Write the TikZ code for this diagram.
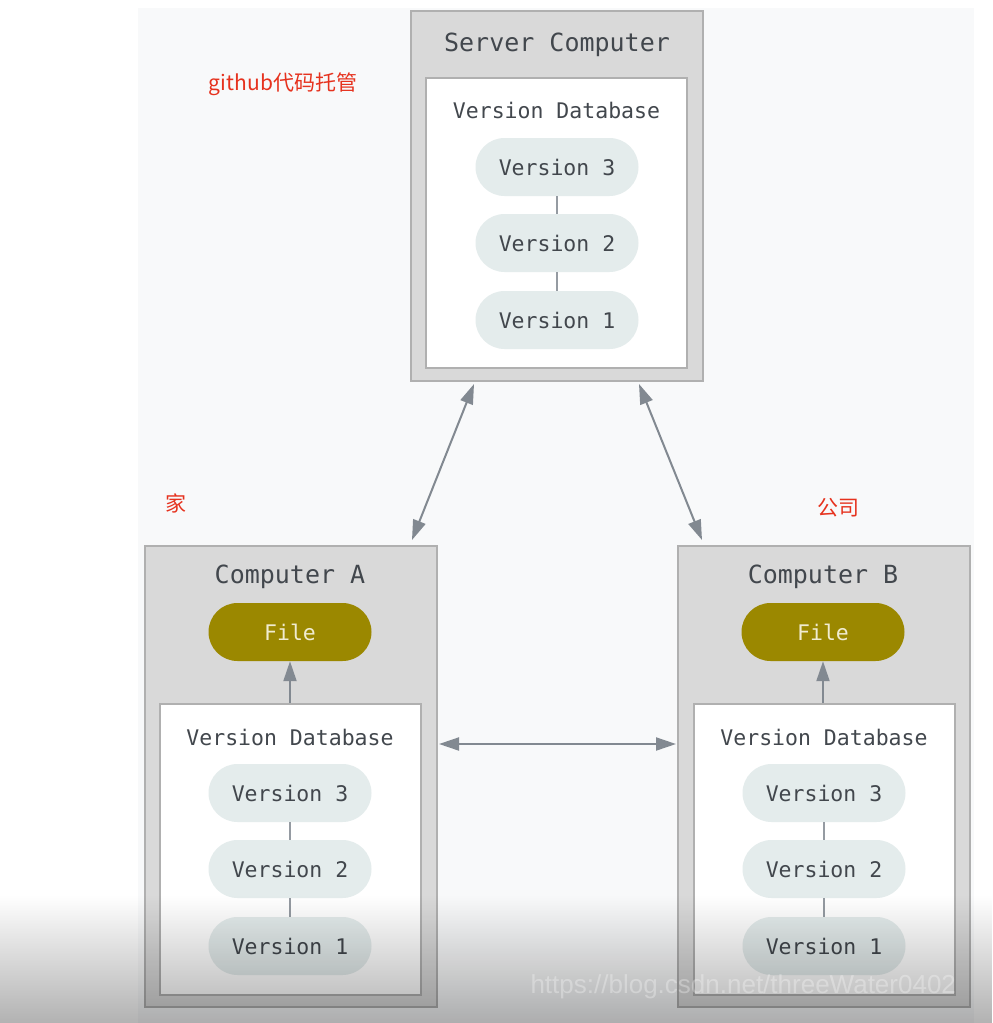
\documentclass[tikz,border=0pt]{standalone}
\usepackage{fontspec}
\setmonofont{DejaVu Sans Mono}
\setmainfont{Liberation Sans}
\newfontfamily\cjk{Noto Sans CJK SC}
\usepackage{xcolor}
\definecolor{PanelBg}   {RGB}{248, 249, 250}
\definecolor{BoxGray}   {RGB}{217, 217, 217}
\definecolor{BoxLine}   {RGB}{176, 176, 176}
\definecolor{PillFill}  {RGB}{228, 236, 236}
\definecolor{FileOlive} {RGB}{155, 136,   0}
\definecolor{FileText}  {RGB}{240, 236, 208}
\definecolor{TextGray}  {RGB}{ 66,  71,  77}
\definecolor{ArrowGray} {RGB}{130, 137, 145}
\definecolor{NoteRed}   {RGB}{230,  50,  30}
\usetikzlibrary{
  arrows.meta,
  positioning,
  calc,
  fadings
}

\begin{document}
\begin{tikzpicture}[
  x=1pt, y=-1pt,
  machine/.style={
    draw=BoxLine, fill=BoxGray, line width=2pt,
    inner sep=0pt, minimum width=292pt
  },
  database/.style={
    draw=BoxLine, fill=white, line width=2pt,
    inner sep=0pt, minimum width=261pt,
    minimum height=291pt
  },
  title/.style={
    text=TextGray, font=\ttfamily\fontsize{25}{30}\selectfont},
  dbtitle/.style={
    text=TextGray, font=\ttfamily\fontsize{21.5}{26}\selectfont},
  version/.style={
    fill=PillFill, rounded corners=29pt,
    minimum width=163pt, minimum height=58pt,
    text=TextGray,
    font=\ttfamily\fontsize{21.5}{26}\selectfont
  },
  file/.style={version,
    fill=FileOlive, text=FileText},
  link/.style={
    draw=ArrowGray!85, line width=1.6pt},
  arrow/.style={
    {Triangle[length=20pt, width=13pt]}-{Triangle[length=20pt, width=13pt]},
    draw=ArrowGray, fill=ArrowGray, line width=2pt},
  up/.style={
    -{Triangle[length=20pt, width=13pt]},
    draw=ArrowGray, fill=ArrowGray, line width=2pt},
  note/.style={
    text=NoteRed, font=\cjk\fontsize{21}{25}\selectfont}
]
\useasboundingbox (0,0) rectangle (993,1023);
\fill[white] (0,0) rectangle (993,1023);
\fill[PanelBg] (138,8) rectangle (974,1023);

% server
\node[machine, minimum height=370pt] (srv) at (557,196) {};
\node[database, minimum height=290pt] (srvdb) at (556.5,223) {};
\node[title] (srvt) at (557,45) {Server Computer};
\node[dbtitle] (srvdbt) at (556.5,110) {Version Database};
\node[version] (s3) at (557,167) {Version 3};
\node[version] (s2) at (557,243) {Version 2};
\node[version] (s1) at (557,320) {Version 1};
\draw[link] (s3) -- (s2);
\draw[link] (s2) -- (s1);

% computer A
\node[machine, minimum height=461pt] (ca) at (291,776.5) {};
\node[database] (cadb) at (290,849.5) {};
\node[title] (cat) at (290,577) {Computer A};
\node[file] (fa) at (290,632) {File};
\node[dbtitle] (cadbt) at (290,737) {Version Database};
\node[version] (a3) at (290,793) {Version 3};
\node[version] (a2) at (290,869) {Version 2};
\node[version] (a1) at (290,946) {Version 1};
\draw[link] (a3) -- (a2);
\draw[link] (a2) -- (a1);
\draw[up] (fa.south |- cadb.north) -- (fa.south);

% computer B
\node[machine, minimum height=461pt] (cb) at (824,776.5) {};
\node[database] (cbdb) at (824.5,849.5) {};
\node[title] (cbt) at (823,577) {Computer B};
\node[file] (fb) at (823,632) {File};
\node[dbtitle] (cbdbt) at (824,737) {Version Database};
\node[version] (b3) at (824,793) {Version 3};
\node[version] (b2) at (824,869) {Version 2};
\node[version] (b1) at (824,946) {Version 1};
\draw[link] (b3) -- (b2);
\draw[link] (b2) -- (b1);
\draw[up] (fb.south |- cbdb.north) -- (fb.south);

% sync arrows
\draw[arrow] ($(srv.south west)+(64,2)$) -- ($(ca.north east)+(-26,-5)$);
\draw[arrow] ($(srv.south east)+(-65,2)$) -- ($(cb.north west)+(25,-5)$);
\draw[arrow] ($(ca.east)+(1,-32.5)$) -- ($(cb.west)+(-1,-32.5)$);

% notes
\node[note] (hub) at (283,84) {github代码托管};
\node[note] (home) at (176,503) {家};
\node[note] (work) at (838,508) {公司};

% video overlay
\fill[black, path fading=north, fill opacity=0.3] (0,895) rectangle (993,1023);
\node[text=white, opacity=0.3, font=\fontsize{26}{30}\selectfont,
      anchor=base west] (mark) at (527,993)
  {https://blog.csdn.net/threeWater0402};
\end{tikzpicture}
\end{document}
